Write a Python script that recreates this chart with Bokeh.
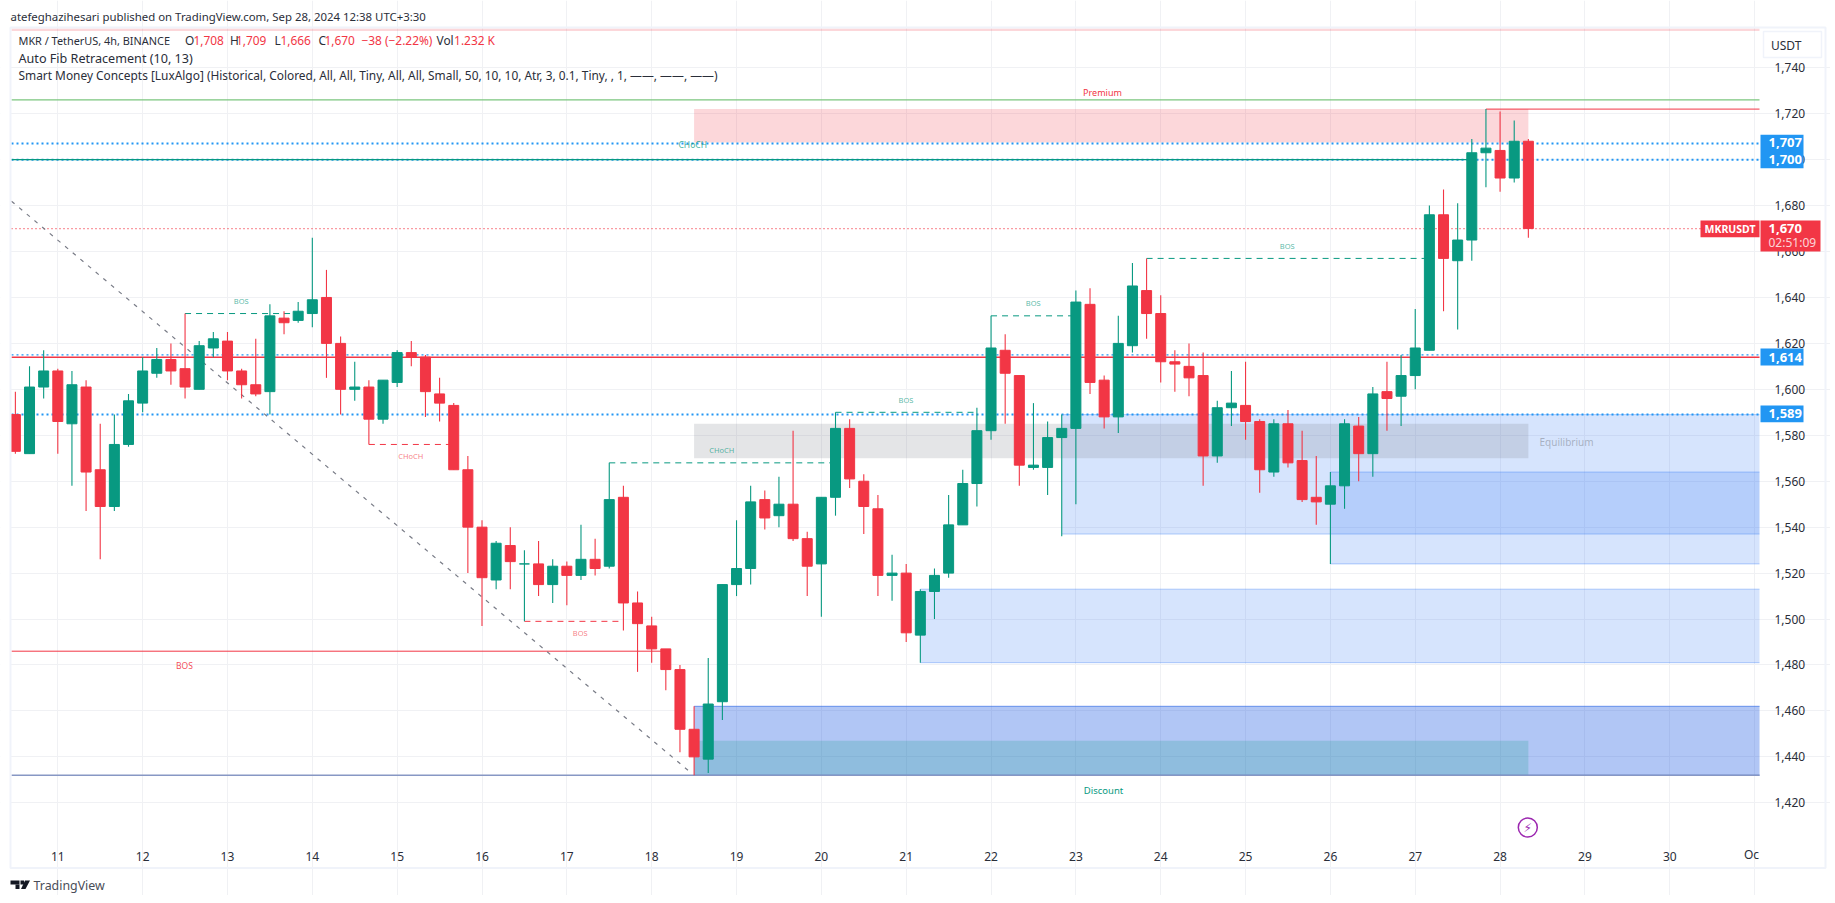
from bokeh.plotting import figure
from bokeh.embed import file_html
from bokeh.resources import INLINE
from bokeh.core.properties import value
from bokeh.models import (BoxAnnotation, Label, FixedTicker, NumeralTickFormatter,
                          PolyAnnotation, Range1d, ColumnDataSource)

# ---- candles (4h bars, MKR/USDT) ----
opens = [1589,1572,1601,1608,1585,1601,1565,1549,1576,1594,
         1607,1613,1609,1600,1618,1621,1608,1602,1599,1631,
         1630,1633,1640,1620,1600,1601,1587,1603,1616,1614,
         1598,1593,1565,1540,1517,1532,1524,1524,1515,1523,
         1519,1526,1523,1553,1507,1497,1487,1478,1452,1439,
         1464,1515,1522,1552,1545,1550,1535,1524,1553,1583,
         1560,1548,1519,1520,1493,1512,1520,1541,1559,1582,
         1617,1606,1566,1566,1579,1583,1637,1604,1588,1619,
         1643,1633,1612,1610,1606,1571,1592,1593,1586,1564,
         1585,1569,1553,1550,1558,1584,1572,1599,1597,1606,
         1617,1676,1656,1665,1703,1704,1692,1708]
closes = [1573,1601,1608,1586,1602,1564,1549,1576,1595,1608,
          1613,1608,1601,1619,1622,1608,1602,1598,1632,1629,
          1634,1639,1620,1600,1601,1587,1604,1616,1614,1599,
          1594,1565,1540,1518,1533,1525,1524,1515,1523,1519,
          1526,1522,1552,1507,1498,1487,1478,1452,1440,1463,
          1515,1522,1551,1544,1550,1535,1523,1553,1583,1561,
          1549,1519,1520,1494,1512,1519,1541,1559,1582,1618,
          1607,1567,1567,1579,1583,1638,1603,1588,1620,1645,
          1633,1612,1611,1605,1571,1592,1594,1586,1565,1585,
          1568,1552,1551,1558,1585,1572,1598,1596,1606,1618,
          1676,1657,1665,1703,1705,1692,1708,1670]
highs = [1599,1610,1617,1609,1608,1604,1585,1589,1598,1614,
         1618,1620,1633,1621,1625,1625,1609,1622,1637,1634,
         1638,1666,1652,1623,1612,1604,1604,1617,1621,1615,
         1605,1594,1571,1543,1534,1540,1530,1534,1526,1525,
         1541,1535,1568,1558,1512,1501,1487,1480,1462,1483,
         1515,1543,1558,1556,1562,1582,1538,1553,1590,1587,
         1563,1554,1528,1524,1513,1522,1554,1565,1592,1632,
         1624,1606,1594,1586,1589,1643,1644,1606,1632,1655,
         1657,1641,1617,1620,1616,1595,1608,1612,1587,1587,
         1591,1582,1571,1564,1587,1588,1601,1612,1615,1635,
         1680,1687,1681,1709,1722,1721,1717,1709]
lows = [1572,1572,1596,1572,1558,1547,1526,1547,1575,1590,
        1605,1602,1596,1600,1614,1604,1596,1597,1589,1624,
        1629,1627,1605,1589,1595,1576,1585,1601,1610,1588,
        1586,1565,1520,1497,1513,1513,1499,1510,1507,1506,
        1517,1519,1522,1495,1477,1481,1469,1442,1432,1433,
        1456,1510,1515,1539,1540,1534,1510,1501,1545,1557,
        1537,1510,1508,1490,1481,1500,1518,1541,1549,1578,
        1585,1558,1565,1554,1536,1550,1598,1583,1581,1616,
        1622,1603,1599,1597,1558,1568,1584,1578,1555,1562,
        1566,1551,1541,1524,1548,1560,1562,1582,1584,1600,
        1617,1634,1626,1656,1688,1686,1690,1666]

# ---- axes ----
day_bars = [3 + 6 * k for k in range(20)]
day_labels = [str(d) for d in range(11, 31)]
oct_bar = 123
price_ticks = list(range(1420, 1760, 20))

# ---- horizontal levels ----
dotted_levels = [1707, 1700, 1589]
dotted_thin_level = 1615
last_price = 1670
red_level = 1614
premium_line = 1726
swing_low_line = 1432

# ---- market-structure segments (level, first bar, last bar) ----
struct_green_level = [1633, 1568, 1590, 1632, 1657]
struct_green_start = [12, 42, 58, 69, 80]
struct_green_end = [20, 58, 68, 75, 100]
struct_red_level = [1576, 1499]
struct_red_start = [25, 36]
struct_red_end = [31, 43]

# ---- zones (bottom, top, first bar, colour, alpha) ----
zone_bottom = [1707.5, 1570, 1432]
zone_top = [1722, 1585, 1447]
zone_color = ["#F23645", "#787B86", "#089981"]
ob_bottom = [1537, 1524, 1481, 1432, 1432]
ob_top = [1589, 1564, 1513, 1462, 1462]
ob_start = [74, 93, 64, 48, 48]
ob_color = ["#3179F5", "#3179F5", "#3179F5", "#1848CC", "#3179F5"]
zone_first, zone_last = 48, 107

# ---- pixel calibration: the frame fills the canvas so nothing is clipped ----
CANVAS_W, CANVAS_H = 1830, 895
PANE_L, PANE_R, PANE_T, PANE_B = 11, 1759, 28, 840
def x_of_px(px): return 3 + (px - 57.3) / 14.14
def y_of_px(py): return 1420 + (802.3 - py) / 2.297

GREEN, RED, BLUE = "#089981", "#F23645", "#2196F3"
FONT = "Noto Sans"
GRID = "#F0F1F4"

p = figure(frame_width=CANVAS_W, frame_height=CANVAS_H,
           min_border_left=0, min_border_right=0, min_border_top=0, min_border_bottom=0,
           x_range=Range1d(x_of_px(0), x_of_px(CANVAS_W)),
           y_range=Range1d(y_of_px(CANVAS_H), y_of_px(0)),
           y_axis_location="right", toolbar_location=None,
           output_backend="svg", background_fill_color="white",
           border_fill_color="white")
p.outline_line_color = None

x0, x1 = x_of_px(PANE_L), x_of_px(PANE_R)
y0, y1 = y_of_px(PANE_B), y_of_px(PANE_T)

xaxis, yaxis = p.xaxis[0], p.yaxis[0]
xaxis.fixed_location = y0
yaxis.fixed_location = x1
xaxis.ticker = FixedTicker(ticks=day_bars + [oct_bar])
xaxis.major_label_overrides = {b: l for b, l in zip(day_bars, day_labels)} | {oct_bar: ""}
yaxis.ticker = FixedTicker(ticks=price_ticks)
yaxis.formatter = NumeralTickFormatter(format="0,0")
for ax in (xaxis, yaxis):
    ax.axis_line_color = None
    ax.major_tick_line_color = None
    ax.minor_tick_line_color = None
    ax.major_label_text_font = FONT
    ax.major_label_text_font_size = "12px"
    ax.major_label_text_color = "#2A2E39"
yaxis.major_label_standoff = 9
xaxis.major_label_standoff = 5
p.xgrid[0].grid_line_color = GRID
p.ygrid[0].grid_line_color = GRID
p.xgrid[0].ticker = xaxis.ticker
p.ygrid[0].ticker = yaxis.ticker
p.xgrid[0].bounds = (y0, y1)
p.ygrid[0].bounds = (x0, x1)

# thin premium band at the top edge
p.quad(left=[x0], right=[x1], bottom=[y_of_px(30.5)], top=[y_of_px(PANE_T)], fill_color="#F23645",
       fill_alpha=0.2, line_color=None)

# order blocks run to the right edge; only their top, bottom and left edges are outlined
ob_src = ColumnDataSource(dict(left=ob_start, right=[x1] * len(ob_start), bottom=ob_bottom,
                               top=ob_top, color=ob_color))
p.quad(left="left", right="right", bottom="bottom", top="top", source=ob_src, fill_color="color",
       fill_alpha=0.2, line_color=None)
p.segment(x0="left", x1="right", y0="top", y1="top", source=ob_src, line_color="color", line_alpha=0.35)
p.segment(x0="left", x1="right", y0="bottom", y1="bottom", source=ob_src, line_color="color", line_alpha=0.35)
# premium / equilibrium / discount
p.quad(left=[zone_first] * 3, right=[zone_last] * 3, bottom=zone_bottom, top=zone_top,
       fill_color=zone_color, fill_alpha=0.2, line_color=None)

# levels
for lv in dotted_levels:
    p.line([x0, x1], [lv, lv], line_color=BLUE, line_width=2, line_dash="2 3")
p.line([x0, x1], [dotted_thin_level, dotted_thin_level], line_color=BLUE, line_width=1.2, line_dash="2 3")
p.line([x0, x1], [last_price, last_price], line_color=RED, line_width=1.2, line_dash="1 3")
p.line([x0, x1], [red_level, red_level], line_color=RED, line_width=1.5)
p.line([x0, x1], [premium_line, premium_line], line_color="#7BC67E", line_width=1.3)
p.line([x0, 103], [1700, 1700], line_color=GREEN, line_width=1.2)
p.line([x0, x1], [swing_low_line, swing_low_line], line_color="#8797C4", line_width=1.4)
p.line([104, x1], [1722, 1722], line_color=RED, line_width=1)
p.line([x0, 46], [1486, 1486], line_color=RED, line_width=1)
p.line([x0, 47.6], [1681.9, 1434], line_color="#787B86", line_width=1.2, line_dash="4 6")

for lv, a, b in zip(struct_green_level, struct_green_start, struct_green_end):
    p.line([a, b], [lv, lv], line_color=GREEN, line_width=1, line_dash="6 5")
for lv, a, b in zip(struct_red_level, struct_red_start, struct_red_end):
    p.line([a, b], [lv, lv], line_color=RED, line_width=1, line_dash="6 5")

# candles
bars = list(range(len(opens)))
colors = [GREEN if c >= o else RED for o, c in zip(opens, closes)]
src = ColumnDataSource(dict(x=bars, o=opens, c=closes, h=highs, l=lows, color=colors))
p.segment(x0="x", x1="x", y0="l", y1="h", source=src, line_color="color", line_width=1.1)
p.vbar(x="x", width=10 / 14.14, bottom="o", top="c", source=src, fill_color="color",
       line_color="color", line_width=1)

# lightning marker
p.scatter([x_of_px(1527.3)], [y_of_px(827)], size=19, marker="circle", fill_color="white",
          line_color="#9C27B0", line_width=1.5)
p.text([x_of_px(1527.3)], [y_of_px(827)], text=["\u26A1"], text_font=value("DejaVu Sans"),
       text_font_size="12px", text_color="#9C27B0", text_align="center", text_baseline="middle")


def lab(text, px, py, size=12, color="#2A2E39", align="left", style="normal", alpha=1.0, font=FONT):
    p.add_layout(Label(x=px, y=py, x_units="canvas", y_units="canvas", text=text, text_font=font,
                       text_font_size=f"{size}px", text_color=color, text_align=align,
                       text_baseline="middle", text_font_style=style, text_alpha=alpha))


def box(l, r, t, b, fill=None, line=None, lw=1, level="annotation"):
    p.add_layout(BoxAnnotation(left=l, right=r, top=t, bottom=b,
                               left_units="canvas", right_units="canvas",
                               top_units="canvas", bottom_units="canvas",
                               fill_color=fill, fill_alpha=1.0 if fill else 0.0,
                               line_color=line, line_width=lw, line_alpha=1.0 if line else 0.0,
                               level=level, editable=False))


# margin strip hides the part of the first candle beyond the pane, then the pane border
box(0, 9.5, 0, CANVAS_H, fill="white")
box(10, 1825, 27, 867.5, line="#F0F3FA", lw=2)

# "Oc" clipped date label
lab("Oc", 1751, 853.7, size=12, align="center")

# in-chart labels
for t, x, y in [("BOS", 240.7, 300.7), ("CHoCH", 721.3, 449.3), ("BOS", 905.5, 399.3),
                ("BOS", 1032.7, 302.3), ("BOS", 1286.7, 245.3)]:
    lab(t, x, y, size=7.5, color=GREEN, align="center", alpha=0.7)
for t, x, y in [("CHoCH", 410.3, 455.3), ("BOS", 579.7, 632.3)]:
    lab(t, x, y, size=7.5, color=RED, align="center", alpha=0.65)
lab("CHoCH", 678, 143.5, size=8.5, color=GREEN, alpha=0.8)
lab("BOS", 184, 665, size=8.5, color=RED, align="center", alpha=0.9)
lab("Premium", 1102, 91.5, size=9, color=RED, align="center")
lab("Discount", 1103, 789.7, size=9.5, color=GREEN, align="center")
lab("Equilibrium", 1539, 441.7, size=10, color="#787B86", alpha=0.5)

# price tags
box(1760, 1803, 134.3, 167.7, fill=BLUE)
lab("1,707", 1768, 142, size=13, color="white", style="bold")
lab("1,700", 1768, 158.5, size=13, color="white", style="bold")
box(1760, 1803, 348, 365, fill=BLUE)
lab("1,614", 1768, 356.5, size=13, color="white", style="bold")
box(1760, 1803, 405, 421.7, fill=BLUE)
lab("1,589", 1768, 413, size=13, color="white", style="bold")
box(1700, 1759, 220, 236.7, fill=RED)
lab("MKRUSDT", 1729.5, 228.5, size=10.5, color="white", align="center", style="bold")
box(1760, 1820, 220, 251, fill=RED)
lab("1,670", 1768, 228, size=13, color="white", style="bold")
lab("02:51:09", 1768, 241.5, size=12, color="white", alpha=0.8)

# USDT button
box(1763, 1821, 31, 57, fill="white", line="#F0F3FA", lw=1.5)
lab("USDT", 1770.5, 44.5, size=12)

# header and legend
lab("atefeghazihesari published on TradingView.com, Sep 28, 2024 12:38 UTC+3:30", 10, 16, size=11.4)
lab("MKR / TetherUS, 4h, BINANCE", 18, 39.8, size=10.9)
for t, x, c in [("O", 184.6, "#2A2E39"), ("1,708", 193, RED), ("H", 229.6, "#2A2E39"), ("1,709", 235.5, RED),
                ("L", 274, "#2A2E39"), ("1,666", 280, RED), ("C", 318, "#2A2E39"), ("1,670", 324, RED),
                ("\u221238 (\u22122.22%)", 361, RED), ("Vol", 436, "#2A2E39"), ("1.232 K", 453.6, RED)]:
    lab(t, x, 39.8, size=11.9, color=c)
lab("Auto Fib Retracement (10, 13)", 18, 58, size=12.6)
lab("Smart Money Concepts [LuxAlgo] (Historical, Colored, All, All, Tiny, All, All, Small, 50, 10, 10, "
    "Atr, 3, 0.1, Tiny, , 1, \u2014\u2014, \u2014\u2014, \u2014\u2014)", 18, 74.5, size=11.9)

# TradingView logo
box(10, 19, 880, 884, fill="#131722")
box(15, 19, 884, 888.5, fill="#131722")
box(20, 23.5, 880, 884, fill="#131722")
p.add_layout(PolyAnnotation(xs=[24.5, 29.5, 25, 20.5], ys=[880, 880, 888.5, 888.5],
                            xs_units="canvas", ys_units="canvas",
                            fill_color="#131722", fill_alpha=1.0, line_color=None))
lab("TradingView", 33, 885, size=12.4, color="#4A4E59")

open("out.html", "w").write(file_html(p, INLINE))
